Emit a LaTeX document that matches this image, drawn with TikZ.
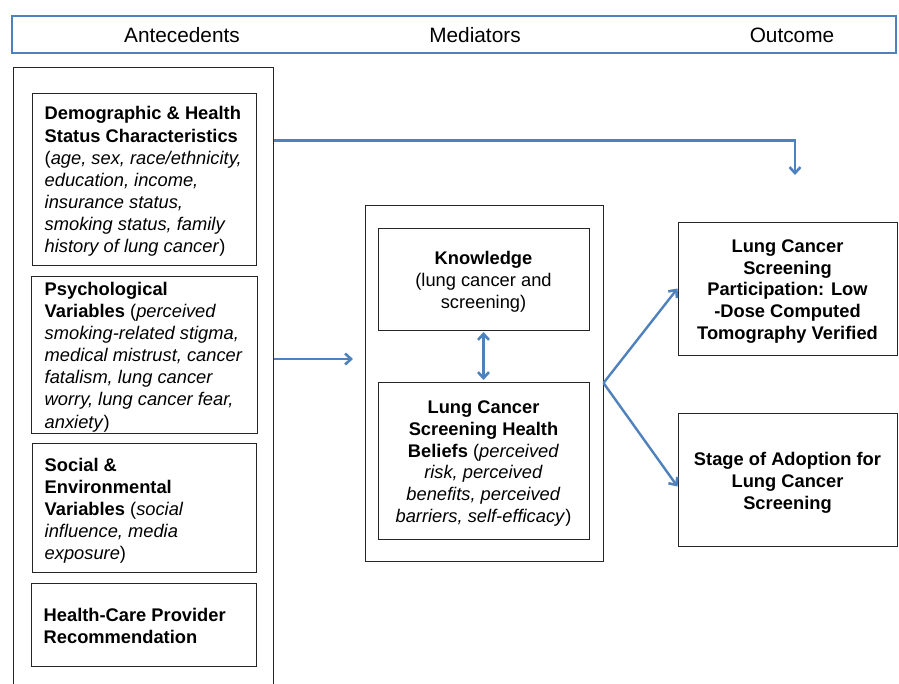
\documentclass[tikz,border=0pt]{standalone}
\usepackage{fontspec}
\setmainfont{Liberation Sans}
\usetikzlibrary{arrows.meta}
\definecolor{arrblue}{HTML}{4F81BD}
\begin{document}
\begin{tikzpicture}[x=1pt,y=-1pt,
  box/.style={draw=black!85, line width=1pt, rectangle, inner sep=0pt},
  txt/.style={align=left, inner sep=0pt, font=\fontsize{18.3}{22.1}\selectfont},
  ctxt/.style={align=center, inner sep=0pt, font=\fontsize{18.3}{21.8}\selectfont},
  arr/.style={draw=arrblue, line width=2.4pt, -{Straight Barb[length=6pt,width=11pt,line width=2.6pt]}},
  hdr/.style={font=\fontsize{20.8}{24}\selectfont, inner sep=0pt}]
\useasboundingbox (0,0) rectangle (899,683);
\clip (0,0) rectangle (899,683);
% header
\node[draw=arrblue, line width=2.8pt, minimum width=884pt, minimum height=37pt, inner sep=0pt] (header) at (454,34.5) {};
\node[hdr] (hA) at (182,35) {Antecedents};
\node[hdr] (hM) at (475,35) {Mediators};
\node[hdr] (hO) at (792,35) {Outcome};
% left outer box
\node[box, minimum width=260pt, minimum height=650pt] (outer) at (143,392) {};
% antecedent boxes
\node[box, minimum width=224pt, minimum height=172pt] (demo) at (144,179) {};
\node[txt, anchor=west] (demoT) at ([xshift=13pt,yshift=-2.5pt]demo.west) {\textbf{Demographic \& Health}\\ \textbf{Status Characteristics}\\ (\textit{age, sex, race/ethnicity,}\\ \textit{education, income,}\\ \textit{insurance status,}\\ \textit{smoking status, family}\\ \textit{history of lung cancer})};
\node[box, minimum width=226pt, minimum height=157pt] (psy) at (144,354.5) {};
\node[txt, anchor=west] (psyT) at ([xshift=14pt,yshift=-2.5pt]psy.west) {\textbf{Psychological}\\ \textbf{Variables} (\textit{perceived}\\ \textit{smoking-related stigma,}\\ \textit{medical mistrust, cancer}\\ \textit{fatalism, lung cancer}\\ \textit{worry, lung cancer fear,}\\ \textit{anxiety})};
\node[box, minimum width=224pt, minimum height=129pt] (soc) at (144,507.5) {};
\node[txt, anchor=west] (socT) at ([xshift=13pt,yshift=-3.5pt]soc.west) {\textbf{Social \&}\\ \textbf{Environmental}\\ \textbf{Variables} (\textit{social}\\ \textit{influence, media}\\ \textit{exposure})};
\node[box, minimum width=225pt, minimum height=83pt] (hcp) at (143.5,624.5) {};
\node[txt, anchor=west] (hcpT) at ([xshift=13pt,yshift=-1pt]hcp.west) {\textbf{Health-Care Provider}\\ \textbf{Recommendation}};
% mediators
\node[box, minimum width=238pt, minimum height=356pt] (med) at (484,383) {};
\node[box, minimum width=211pt, minimum height=102pt] (know) at (483.5,279) {};
\node[ctxt] (knowT) at ([yshift=-2.5pt]know.center) {\textbf{Knowledge}\\ (lung cancer and\\ screening)};
\node[box, minimum width=211pt, minimum height=157pt] (bel) at (483.5,460.5) {};
\node[ctxt] (belT) at ([yshift=-3pt]bel.center) {\textbf{Lung Cancer}\\ \textbf{Screening Health}\\ \textbf{Beliefs} (\textit{perceived}\\ \textit{risk, perceived}\\ \textit{benefits, perceived}\\ \textit{barriers, self-efficacy})};
% outcomes
\node[box, minimum width=219pt, minimum height=133pt] (out1) at (787.5,288.5) {};
\node[ctxt] (out1T) at ([yshift=-3pt]out1.center) {\textbf{Lung Cancer}\\ \textbf{Screening}\\ \textbf{Participation: Low}\\ \textbf{-Dose Computed}\\ \textbf{Tomography Verified}};
\node[box, minimum width=219pt, minimum height=133pt] (out2) at (787.5,479.5) {};
\node[ctxt] (out2T) at ([yshift=-3.5pt]out2.center) {\textbf{Stage of Adoption for}\\ \textbf{Lung Cancer}\\ \textbf{Screening}};
% connectors
\coordinate (topend) at (795,175);
\coordinate (midend) at (353,359);
\draw[arr] ([yshift=-74pt]outer.north east) -| (topend);
\draw[arr] (outer.east |- midend) -- (midend);
\draw[arr, {Straight Barb[length=6pt,width=11pt,line width=2.6pt]}-{Straight Barb[length=6pt,width=11pt,line width=2.6pt]}, shorten <=1.5pt, shorten >=1.5pt] (know.south) -- (bel.north);
\draw[arr] (med.east) -- (out1.west);
\draw[arr] (med.east) -- ([yshift=-7pt]out2.west);
\end{tikzpicture}
\end{document}
